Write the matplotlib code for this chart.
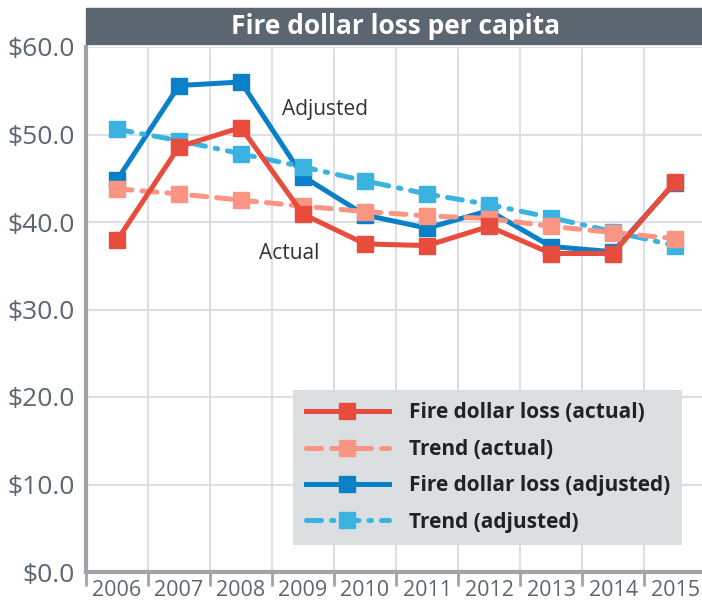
import numpy as np
import matplotlib.pyplot as plt
from matplotlib.patches import Rectangle

plt.rcParams['font.family'] = ['Open Sans', 'DejaVu Sans']

# Data
years = ['2006', '2007', '2008', '2009', '2010', '2011', '2012', '2013', '2014', '2015']
actual = [37.9, 48.6, 50.8, 40.9, 37.5, 37.3, 39.5, 36.4, 36.4, 44.6]
trend_actual = [43.8, 43.2, 42.5, 41.8, 41.2, 40.7, 40.4, 39.5, 38.8, 38.1]
adjusted = [44.8, 55.6, 56.0, 45.2, 40.8, 39.3, 41.3, 37.2, 36.6, 44.5]
trend_adjusted = [50.6, 49.3, 47.8, 46.3, 44.7, 43.2, 42.0, 40.5, 38.9, 37.3]
yticks = [0, 10, 20, 30, 40, 50, 60]

RED = '#e84c3d'
SALMON = '#f99582'
BLUE = '#0a80c8'
LIGHTBLUE = '#3bb3e0'
GRAY = '#5b6670'

W, H = 702, 613
fig = plt.figure(figsize=(W / 100, H / 100), dpi=100)
ax = fig.add_axes([86 / W, (H - 572) / H, 620 / W, 525 / H])

x = np.arange(len(years))
ms = 11.5
lw = 3.6
ax.plot(x, adjusted, color=BLUE, lw=lw, marker='s', ms=ms, zorder=2,
        label='Fire dollar loss (adjusted)')
ax.plot(x, trend_adjusted, color=LIGHTBLUE, lw=lw, marker='s', ms=ms, zorder=3,
        dashes=(3, 2, 0.5, 2), dash_capstyle='round', label='Trend (adjusted)')
ax.plot(x, trend_actual, color=SALMON, lw=lw, marker='s', ms=ms, zorder=4,
        dashes=(3, 2), dash_capstyle='round', label='Trend (actual)')
ax.plot(x, actual, color=RED, lw=lw, marker='s', ms=ms, zorder=5,
        label='Fire dollar loss (actual)')

ax.text(3.36, 52.8, 'Adjusted', fontsize=15, color='#333333', ha='center', va='center')
ax.text(2.78, 36.4, 'Actual', fontsize=15, color='#333333', ha='center', va='center')

ax.set_xlim(-0.5, 9.5)
ax.set_ylim(0, 60)
ax.set_xticks(x)
ax.set_xticklabels(years, fontsize=15.5, color=GRAY)
ax.set_xticks(np.arange(-0.5, 10, 1), minor=True)
ax.set_yticks(yticks)
ax.set_yticklabels([f'${v:.1f}' for v in yticks], fontsize=19, color=GRAY)
ax.tick_params(axis='x', which='major', length=0, pad=6)
ax.tick_params(axis='x', which='minor', length=10, width=2, color='#a0a4a8')
ax.tick_params(axis='y', length=0, pad=8)
ax.grid(axis='y', color='#dde0e3', lw=1.5, zorder=0)
ax.grid(axis='x', which='minor', color='#dde0e3', lw=1.5, zorder=0)
for s in ['top', 'right']:
    ax.spines[s].set_visible(False)
for s in ['left', 'bottom']:
    ax.spines[s].set_color('#a0a4a8')
    ax.spines[s].set_linewidth(3)
ax.set_axisbelow(True)

# Title bar
fig.patches.append(Rectangle((86 / W, (H - 44) / H), (W - 86) / W, 36 / H,
                             transform=fig.transFigure, color=GRAY, zorder=0))
fig.text(396 / W, (H - 26) / H, 'Fire dollar loss per capita', color='white',
         fontsize=19, fontweight='bold', ha='center', va='center')

# Legend
handles, labels = ax.get_legend_handles_labels()
order = [3, 2, 0, 1]
leg = ax.legend([handles[i] for i in order], [labels[i] for i in order],
                loc='upper left', bbox_to_anchor=(293 / W, (H - 390) / H),
                bbox_transform=fig.transFigure, frameon=True, fancybox=False,
                facecolor='#dcdfe2', edgecolor='none', framealpha=1,
                prop={'weight': 'bold', 'size': 15}, handlelength=4.0,
                handletextpad=0.95, labelspacing=0.74, borderpad=0.6,
                borderaxespad=0)
for t in leg.get_texts():
    t.set_color('#222222')
leg.set_zorder(10)

fig.savefig('out.png', dpi=100)
